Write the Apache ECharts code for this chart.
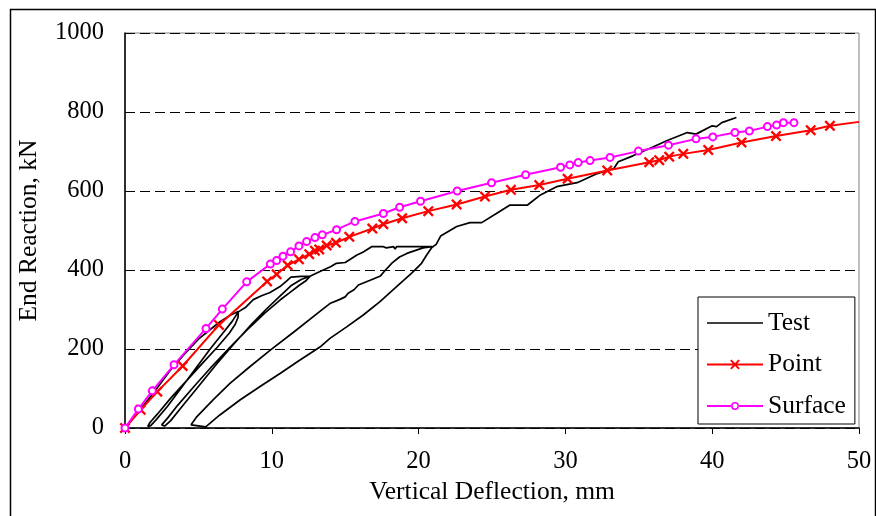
<!DOCTYPE html>
<html>
<head>
<meta charset="utf-8">
<script src="https://cdn.jsdelivr.net/npm/echarts@6/dist/echarts.min.js"></script>
<style>
  html, body { margin: 0; padding: 0; background: #fff; }
  #chart { width: 876px; height: 516px; }
</style>
</head>
<body>
<div id="chart"></div>
<script>
// Load–deflection response of the beam end: test record and two models
const yTicks = [0, 200, 400, 600, 800, 1000];
const xTicks = [0, 10, 20, 30, 40, 50];

// Test record (deflection mm, reaction kN), including unload/reload cycles
const testDefl = [
  0, 1, 2, 3, 3.3, 4, 5, 6, 6.5, 7.2, 7.72,
  7.7, 7.5, 7.1, 6.3, 5.3, 4.2, 3.1, 2.2, 1.7, 1.55,
  1.75, 2.1, 2.9, 3.8, 4.8, 5.8, 6.7, 7.3, 7.72,
  8.2, 8.74, 9.3, 9.88, 10.56, 11.0, 11.3, 12.0, 12.6,
  12.7, 12.3, 11.9, 11.2, 10.56, 9.5, 8.3, 7.1, 5.9, 4.7, 3.6, 2.9, 2.5, 2.4,
  2.7, 3.1, 3.9, 5.0, 6.2, 7.4, 8.6, 9.6, 10.5, 11.3, 12.0, 12.6,
  13.28, 14.0, 14.4, 15.0, 15.8, 16.2, 16.8, 17.6, 17.8, 17.9, 18.3, 18.4, 18.5, 19.5, 20.3, 20.9,
  20.9, 20.3, 19.2, 18.7, 18.2, 17.7, 17.4, 16.7, 15.9, 15.6, 15.2, 15.0, 14.6, 14.0, 13.3, 11.5, 9.9, 8.5, 7.15, 6.0, 4.9, 4.5, 4.45,
  5.5, 6.46, 7.83, 9.2, 10.56, 11.92, 13.28, 13.96, 15.1, 16.23, 17.37, 18.5, 19.53, 20.2, 20.55, 20.9, 21.2,
  21.5, 22.6, 23.5, 24.3, 25.3, 26.2, 27.4, 28.3, 29.4, 30.8, 32.1, 33.3, 33.6, 34.6, 36.0, 36.9, 38.3, 38.9, 40.0, 40.3, 40.65, 41.65
];
const testLoad = [
  0, 45, 92, 142, 155, 185, 225, 255, 270, 286, 295,
  280, 262, 240, 205, 165, 120, 75, 35, 14, 4,
  6, 20, 55, 100, 150, 200, 242, 270, 294,
  305, 325, 335, 343, 358, 372, 382, 384, 384,
  380, 372, 362, 342, 324, 290, 248, 202, 155, 105, 58, 25, 8, 3,
  5, 18, 55, 105, 160, 212, 262, 300, 332, 360, 376, 384,
  396, 408, 417, 419, 438, 445, 459, 459, 456, 459, 459, 453, 459, 459, 459, 459,
  456, 456, 442, 433, 418, 398, 385, 374, 362, 350, 341, 332, 325, 316, 296, 243, 197, 155, 113, 71, 29, 8, 4,
  3, 33, 71, 105, 138, 172, 205, 227, 256, 286, 320, 358, 392, 417, 438, 457, 465,
  486, 510, 520, 520, 543, 564, 564, 590, 611, 621, 643, 657, 674, 689, 712, 727, 748, 744, 765, 763, 773, 786
];

// Point-load model
const pointDefl = [0, 1.07, 2.2, 3.93, 6.4, 9.68, 10.33, 11.08, 11.85, 12.55, 12.94, 13.23, 13.74, 14.37, 15.28, 16.85, 17.6, 18.88, 20.66, 22.59, 24.52, 26.29, 28.22, 30.15, 32.85, 35.71, 36.39, 37.07, 38.03, 39.73, 42.0, 44.35, 46.71, 48.02, 50];
const pointLoad = [0, 46, 92, 157, 261, 371, 389, 412, 427, 440, 449, 452, 462, 469, 484, 505, 516, 531, 549, 566, 586, 603, 615, 631, 652, 673, 678, 687, 694, 704, 723, 739, 754, 765, 775];

// Surface-load model
const surfaceDefl = [0, 0.91, 1.86, 3.34, 5.52, 6.63, 8.29, 9.9, 10.33, 10.76, 11.28, 11.85, 12.37, 12.94, 13.44, 14.41, 15.66, 17.6, 18.71, 20.13, 22.63, 24.97, 27.29, 29.67, 30.3, 30.87, 31.68, 33.04, 34.97, 37.02, 38.9, 40.04, 41.55, 42.53, 43.76, 44.39, 44.85, 45.57];
const surfaceLoad = [0, 48, 94, 160, 252, 301, 370, 415, 424, 435, 446, 461, 472, 482, 489, 502, 523, 543, 559, 574, 600, 621, 641, 660, 666, 672, 677, 685, 701, 716, 732, 737, 748, 752, 763, 767, 773, 773];

const FONT = 'Liberation Serif';
const zip = (xs, ys) => xs.map((x, i) => [x, ys[i]]);

const pointData = zip(pointDefl, pointLoad).map((p, i, arr) =>
  i === arr.length - 1 ? { value: p, symbol: 'none' } : p);

// Marker shapes
const CROSS = 'path://M0,1.5L1.5,0L5,3.5L8.5,0L10,1.5L6.5,5L10,8.5L8.5,10L5,6.5L1.5,10L0,8.5L3.5,5Z';

// Legend keys drawn in a 56x12 box: a line segment, with the series marker in the middle
const BOX = 'M0,0M56,12';
const KEY_LINE = 'path://' + BOX + 'M0,5.2H56V6.8H0Z';
const KEY_CROSS = 'path://' + BOX + 'M0,5.1H56V6.9H0Z' +
  'M23.2,2.3L24.5,1L28,4.5L31.5,1L32.8,2.3L29.3,6L32.8,9.7L31.5,11L28,7.5L24.5,11L23.2,9.7L26.7,6Z';
const KEY_RING = 'path://' + BOX + 'M0,5.1H24.3V6.9H0Z M31.7,5.1H56V6.9H31.7Z' +
  'M32,6A4,4,0,1,0,24,6A4,4,0,1,0,32,6Z M30.4,6A2.4,2.4,0,1,1,25.6,6A2.4,2.4,0,1,1,30.4,6Z';

const chart = echarts.init(document.getElementById('chart'), null, { renderer: 'canvas' });
chart.setOption({
  animation: false,
  backgroundColor: '#fff',
  textStyle: { fontFamily: FONT, color: '#000' },
  graphic: [{
    type: 'rect', left: 8, top: 7, silent: true, z: -10,
    shape: { width: 865, height: 530 },
    style: { fill: 'none', stroke: '#000', lineWidth: 1.5 }
  }],
  grid: {
    left: 125, right: 17, top: 33, bottom: 88,
    show: true, borderColor: '#808080', borderWidth: 1, backgroundColor: 'transparent'
  },
  legend: {
    orient: 'vertical', left: 698, top: 297,
    backgroundColor: '#fff', borderColor: '#000', borderWidth: 1,
    padding: [13, 9, 5, 9],
    itemWidth: 56, itemHeight: 12, itemGap: 15.5,
    symbolKeepAspect: false,
    itemStyle: { borderWidth: 0 },
    textStyle: { fontFamily: FONT, fontSize: 25.5, color: '#000', lineHeight: 25 },
    data: [
      { name: 'Test', icon: KEY_LINE },
      { name: 'Point', icon: KEY_CROSS },
      { name: 'Surface', icon: KEY_RING }
    ]
  },
  xAxis: {
    type: 'value', min: 0, max: 50, interval: 10,
    name: 'Vertical Deflection, mm', nameLocation: 'middle', nameGap: 51,
    nameTextStyle: { fontFamily: FONT, fontSize: 25.5, color: '#000' },
    axisLine: { show: true, onZero: false, lineStyle: { color: '#000', width: 1.5 } },
    axisTick: { show: true, inside: false, length: 6, lineStyle: { color: '#000', width: 1 } },
    axisLabel: { fontFamily: FONT, fontSize: 24.5, color: '#000', margin: 21,
      formatter: v => xTicks.includes(v) ? String(v) : '' },
    splitLine: { show: false }
  },
  yAxis: {
    type: 'value', min: 0, max: 1000, interval: 200,
    name: 'End Reaction, kN', nameLocation: 'middle', nameGap: 83, nameRotate: 90,
    nameTextStyle: { fontFamily: FONT, fontSize: 25.5, color: '#000' },
    axisLine: { show: true, onZero: false, lineStyle: { color: '#000', width: 1.5 } },
    axisTick: { show: true, inside: true, length: 5, lineStyle: { color: '#000', width: 1 } },
    axisLabel: { fontFamily: FONT, fontSize: 24.5, color: '#000', margin: 21,
      formatter: v => yTicks.includes(v) ? String(v) : '' },
    splitLine: { show: true, lineStyle: { color: '#000', width: 1, type: [10, 5] } }
  },
  series: [
    {
      name: 'Test', type: 'line', data: zip(testDefl, testLoad),
      symbol: 'none', clip: false, z: 2,
      lineStyle: { color: '#000', width: 1.7 }, itemStyle: { color: '#000' }
    },
    {
      name: 'Point', type: 'line', data: pointData,
      symbol: CROSS, symbolSize: 11, clip: false, z: 3,
      lineStyle: { color: '#ff0000', width: 2 }, itemStyle: { color: '#ff0000' }
    },
    {
      name: 'Surface', type: 'line', data: zip(surfaceDefl, surfaceLoad),
      symbol: 'emptyCircle', symbolSize: 7, clip: false, z: 4,
      lineStyle: { color: '#ff00ff', width: 2 },
      itemStyle: { color: '#ff00ff', borderColor: '#ff00ff', borderWidth: 2 }
    }
  ]
});
</script>
</body>
</html>
